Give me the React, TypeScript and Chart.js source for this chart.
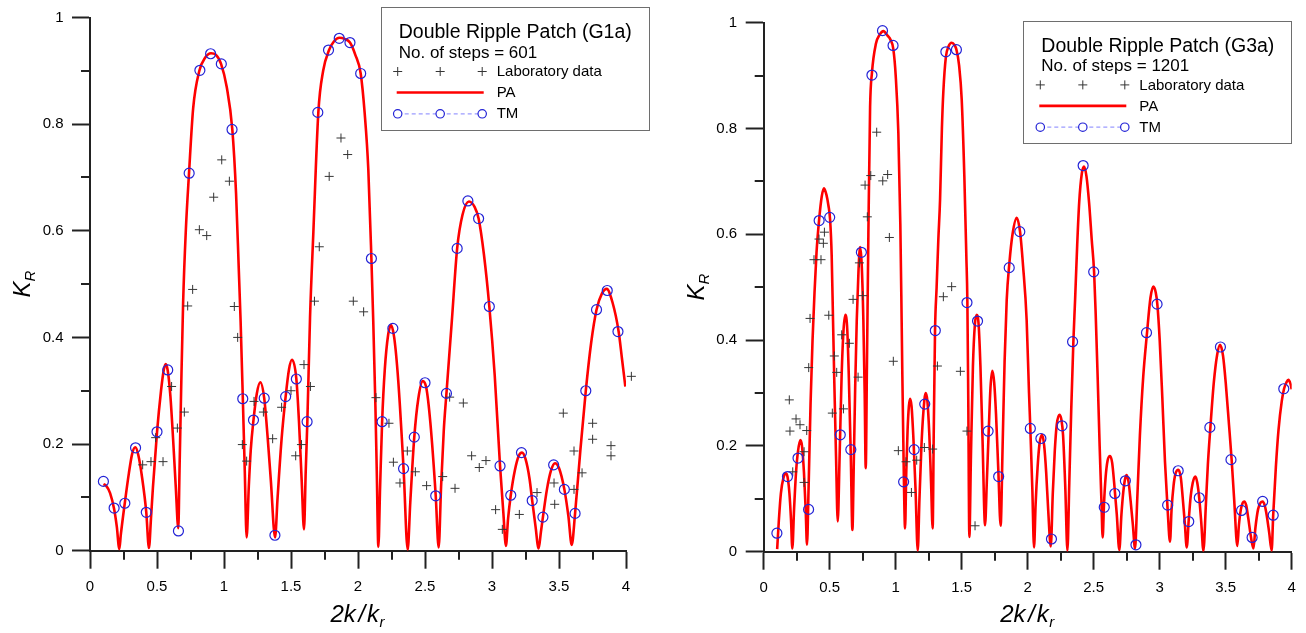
import React, { useEffect, useRef } from 'react';
import { Chart, registerables } from 'chart.js';

Chart.register(...registerables);

const FONT = "'Liberation Sans', Arial, Helvetica, sans-serif";
const AXIS = '#222222';
const RED = '#ff0000';
const BLUE = '#2323d6';
const LAB = '#353535';

// ---- tick values ----
const xTickValues = [0, 0.5, 1, 1.5, 2, 2.5, 3, 3.5, 4];
const yTickValues = [0, 0.2, 0.4, 0.6, 0.8, 1];
const xMinorTicks = [0.25, 0.75, 1.25, 1.75, 2.25, 2.75, 3.25, 3.75];
const yMinorTicks = [0.1, 0.3, 0.5, 0.7, 0.9];

// ---- legend texts ----
const leftTitle = 'Double Ripple Patch (G1a)';
const leftSteps = 'No. of steps = 601';
const rightTitle = 'Double Ripple Patch (G3a)';
const rightSteps = 'No. of steps = 1201';
const seriesNames = ['Laboratory data', 'PA', 'TM'];

// ---- TM (shared x) ----
const tmX = [0.10, 0.18, 0.26, 0.34, 0.42, 0.50, 0.58, 0.66, 0.74, 0.82, 0.90, 0.98, 1.06, 1.14, 1.22, 1.30, 1.38, 1.46, 1.54, 1.62, 1.70, 1.78, 1.86, 1.94, 2.02, 2.10, 2.18, 2.26, 2.34, 2.42, 2.50, 2.58, 2.66, 2.74, 2.82, 2.90, 2.98, 3.06, 3.14, 3.22, 3.30, 3.38, 3.46, 3.54, 3.62, 3.70, 3.78, 3.86, 3.94];
const leftTmY = [0.130, 0.080, 0.089, 0.193, 0.072, 0.223, 0.339, 0.037, 0.708, 0.901, 0.932, 0.913, 0.790, 0.285, 0.245, 0.286, 0.029, 0.289, 0.322, 0.242, 0.822, 0.939, 0.961, 0.953, 0.895, 0.548, 0.242, 0.417, 0.154, 0.213, 0.315, 0.103, 0.295, 0.567, 0.656, 0.623, 0.458, 0.159, 0.104, 0.184, 0.094, 0.063, 0.161, 0.115, 0.070, 0.300, 0.452, 0.488, 0.411];
const rightTmY = [0.035, 0.142, 0.177, 0.080, 0.626, 0.632, 0.221, 0.193, 0.566, 0.901, 0.985, 0.957, 0.132, 0.193, 0.279, 0.418, 0.945, 0.949, 0.471, 0.436, 0.228, 0.142, 0.537, 0.605, 0.233, 0.214, 0.024, 0.238, 0.397, 0.730, 0.529, 0.084, 0.110, 0.134, 0.013, 0.414, 0.468, 0.088, 0.153, 0.057, 0.102, 0.235, 0.387, 0.174, 0.078, 0.027, 0.095, 0.069, 0.308];

// ---- Laboratory data ----
const leftLabX = [0.393, 0.455, 0.490, 0.545, 0.609, 0.652, 0.704, 0.729, 0.766, 0.816, 0.871, 0.923, 0.983, 1.040, 1.077, 1.102, 1.137, 1.169, 1.224, 1.294, 1.363, 1.430, 1.500, 1.535, 1.578, 1.597, 1.645, 1.675, 1.711, 1.785, 1.873, 1.923, 1.965, 2.042, 2.134, 2.231, 2.264, 2.313, 2.368, 2.428, 2.512, 2.632, 2.684, 2.724, 2.786, 2.848, 2.905, 2.955, 3.027, 3.077, 3.204, 3.336, 3.463, 3.468, 3.532, 3.612, 3.612, 3.672, 3.751, 3.751, 3.888, 3.888, 4.040];
const leftLabY = [0.161, 0.167, 0.212, 0.167, 0.308, 0.230, 0.260, 0.459, 0.490, 0.602, 0.591, 0.663, 0.733, 0.693, 0.458, 0.400, 0.199, 0.168, 0.280, 0.260, 0.210, 0.269, 0.300, 0.178, 0.199, 0.349, 0.308, 0.468, 0.570, 0.702, 0.774, 0.743, 0.468, 0.448, 0.287, 0.239, 0.166, 0.127, 0.187, 0.148, 0.122, 0.139, 0.288, 0.117, 0.277, 0.178, 0.156, 0.169, 0.077, 0.040, 0.068, 0.109, 0.127, 0.087, 0.258, 0.187, 0.115, 0.146, 0.239, 0.209, 0.197, 0.178, 0.327];
const rightLabX = [0.194, 0.199, 0.220, 0.245, 0.275, 0.306, 0.306, 0.326, 0.341, 0.351, 0.381, 0.419, 0.434, 0.452, 0.460, 0.493, 0.520, 0.535, 0.553, 0.591, 0.604, 0.649, 0.677, 0.715, 0.725, 0.750, 0.768, 0.785, 0.811, 0.856, 0.902, 0.939, 0.952, 0.982, 1.020, 1.078, 1.119, 1.159, 1.217, 1.280, 1.316, 1.361, 1.424, 1.490, 1.540, 1.601];
const rightLabY = [0.287, 0.228, 0.151, 0.251, 0.240, 0.189, 0.131, 0.229, 0.348, 0.441, 0.552, 0.591, 0.552, 0.583, 0.604, 0.447, 0.262, 0.370, 0.339, 0.410, 0.270, 0.394, 0.477, 0.330, 0.546, 0.484, 0.693, 0.633, 0.711, 0.793, 0.701, 0.713, 0.594, 0.360, 0.191, 0.170, 0.112, 0.173, 0.197, 0.194, 0.351, 0.482, 0.501, 0.341, 0.228, 0.049];

// ---- PA curves ----
const leftPaX = [0.100, 0.120, 0.150, 0.180, 0.200, 0.219, 0.230, 0.260, 0.290, 0.315, 0.338, 0.360, 0.390, 0.420, 0.440, 0.455, 0.470, 0.500, 0.530, 0.550, 0.565, 0.580, 0.600, 0.620, 0.640, 0.659, 0.668, 0.680, 0.695, 0.715, 0.739, 0.770, 0.816, 0.860, 0.903, 0.940, 0.978, 1.020, 1.062, 1.090, 1.110, 1.124, 1.140, 1.155, 1.169, 1.185, 1.200, 1.220, 1.245, 1.271, 1.300, 1.325, 1.350, 1.381, 1.400, 1.430, 1.460, 1.485, 1.507, 1.540, 1.560, 1.580, 1.597, 1.610, 1.622, 1.642, 1.667, 1.704, 1.740, 1.784, 1.820, 1.861, 1.900, 1.940, 1.980, 2.020, 2.050, 2.077, 2.100, 2.114, 2.130, 2.140, 2.152, 2.165, 2.180, 2.200, 2.225, 2.246, 2.270, 2.300, 2.340, 2.371, 2.390, 2.420, 2.450, 2.483, 2.510, 2.540, 2.580, 2.602, 2.620, 2.640, 2.660, 2.700, 2.740, 2.780, 2.828, 2.870, 2.900, 2.940, 2.980, 3.020, 3.060, 3.085, 3.104, 3.120, 3.140, 3.170, 3.200, 3.224, 3.250, 3.280, 3.300, 3.325, 3.348, 3.365, 3.380, 3.410, 3.440, 3.470, 3.500, 3.540, 3.570, 3.595, 3.620, 3.660, 3.700, 3.740, 3.780, 3.820, 3.856, 3.900, 3.945, 3.970, 3.995];
const leftPaY = [0.125, 0.122, 0.108, 0.078, 0.045, 0.003, 0.030, 0.090, 0.145, 0.182, 0.194, 0.180, 0.135, 0.072, 0.005, 0.060, 0.120, 0.222, 0.300, 0.338, 0.350, 0.338, 0.290, 0.210, 0.120, 0.042, 0.150, 0.300, 0.466, 0.600, 0.708, 0.830, 0.900, 0.925, 0.933, 0.930, 0.913, 0.870, 0.790, 0.670, 0.530, 0.430, 0.290, 0.150, 0.025, 0.120, 0.190, 0.245, 0.295, 0.316, 0.286, 0.215, 0.130, 0.025, 0.100, 0.210, 0.289, 0.340, 0.358, 0.322, 0.240, 0.130, 0.040, 0.150, 0.242, 0.437, 0.598, 0.822, 0.900, 0.939, 0.955, 0.962, 0.960, 0.953, 0.930, 0.895, 0.820, 0.715, 0.548, 0.429, 0.270, 0.150, 0.007, 0.120, 0.242, 0.340, 0.405, 0.423, 0.400, 0.320, 0.154, 0.002, 0.090, 0.213, 0.285, 0.318, 0.305, 0.240, 0.103, 0.006, 0.120, 0.225, 0.295, 0.430, 0.567, 0.630, 0.655, 0.645, 0.623, 0.555, 0.458, 0.330, 0.159, 0.070, 0.009, 0.060, 0.104, 0.150, 0.178, 0.184, 0.172, 0.135, 0.094, 0.045, 0.004, 0.035, 0.063, 0.115, 0.150, 0.164, 0.155, 0.115, 0.065, 0.011, 0.070, 0.190, 0.300, 0.390, 0.452, 0.482, 0.491, 0.465, 0.411, 0.360, 0.308];
const rightPaX = [0.102, 0.115, 0.130, 0.150, 0.167, 0.180, 0.195, 0.207, 0.217, 0.230, 0.245, 0.260, 0.278, 0.290, 0.305, 0.318, 0.328, 0.340, 0.355, 0.370, 0.385, 0.400, 0.420, 0.440, 0.457, 0.475, 0.490, 0.503, 0.515, 0.525, 0.535, 0.548, 0.561, 0.575, 0.590, 0.605, 0.619, 0.633, 0.645, 0.660, 0.672, 0.682, 0.693, 0.705, 0.718, 0.730, 0.742, 0.755, 0.765, 0.773, 0.782, 0.793, 0.806, 0.820, 0.850, 0.880, 0.907, 0.940, 0.960, 0.982, 1.000, 1.020, 1.035, 1.045, 1.050, 1.060, 1.071, 1.080, 1.090, 1.100, 1.109, 1.120, 1.135, 1.150, 1.167, 1.180, 1.195, 1.210, 1.227, 1.240, 1.255, 1.268, 1.280, 1.288, 1.298, 1.310, 1.323, 1.336, 1.350, 1.361, 1.380, 1.400, 1.424, 1.445, 1.460, 1.480, 1.500, 1.520, 1.535, 1.543, 1.550, 1.558, 1.570, 1.585, 1.600, 1.614, 1.628, 1.642, 1.658, 1.677, 1.690, 1.705, 1.718, 1.732, 1.746, 1.760, 1.778, 1.795, 1.810, 1.825, 1.841, 1.861, 1.885, 1.917, 1.942, 1.965, 1.992, 2.010, 2.020, 2.035, 2.048, 2.060, 2.075, 2.090, 2.109, 2.125, 2.140, 2.155, 2.175, 2.190, 2.205, 2.220, 2.240, 2.255, 2.268, 2.285, 2.301, 2.315, 2.330, 2.346, 2.359, 2.375, 2.390, 2.410, 2.427, 2.445, 2.465, 2.485, 2.503, 2.515, 2.530, 2.545, 2.558, 2.568, 2.578, 2.590, 2.605, 2.624, 2.640, 2.655, 2.675, 2.694, 2.710, 2.725, 2.740, 2.750, 2.765, 2.780, 2.797, 2.813, 2.830, 2.850, 2.875, 2.904, 2.930, 2.952, 2.970, 2.982, 3.000, 3.020, 3.040, 3.060, 3.078, 3.090, 3.105, 3.120, 3.141, 3.160, 3.175, 3.190, 3.205, 3.220, 3.235, 3.250, 3.270, 3.285, 3.300, 3.315, 3.331, 3.350, 3.365, 3.384, 3.410, 3.435, 3.457, 3.480, 3.500, 3.525, 3.545, 3.565, 3.588, 3.600, 3.615, 3.630, 3.641, 3.655, 3.670, 3.690, 3.710, 3.725, 3.745, 3.765, 3.780, 3.795, 3.810, 3.830, 3.848, 3.860, 3.880, 3.900, 3.925, 3.942, 3.960, 3.975, 3.990, 4.000];
const rightPaY = [0.005, 0.060, 0.110, 0.140, 0.148, 0.142, 0.110, 0.060, 0.006, 0.080, 0.150, 0.190, 0.211, 0.200, 0.150, 0.080, 0.013, 0.120, 0.280, 0.400, 0.490, 0.565, 0.628, 0.672, 0.687, 0.675, 0.655, 0.628, 0.560, 0.440, 0.320, 0.180, 0.057, 0.180, 0.330, 0.420, 0.448, 0.420, 0.330, 0.180, 0.041, 0.160, 0.310, 0.438, 0.530, 0.576, 0.545, 0.438, 0.300, 0.158, 0.350, 0.600, 0.840, 0.905, 0.960, 0.978, 0.984, 0.975, 0.968, 0.950, 0.900, 0.792, 0.620, 0.438, 0.340, 0.170, 0.044, 0.150, 0.230, 0.275, 0.289, 0.275, 0.210, 0.120, 0.002, 0.100, 0.200, 0.265, 0.300, 0.285, 0.220, 0.130, 0.044, 0.220, 0.418, 0.500, 0.590, 0.665, 0.800, 0.870, 0.935, 0.955, 0.962, 0.958, 0.949, 0.920, 0.855, 0.710, 0.560, 0.472, 0.280, 0.028, 0.180, 0.350, 0.430, 0.448, 0.430, 0.350, 0.210, 0.050, 0.130, 0.230, 0.310, 0.342, 0.320, 0.260, 0.150, 0.049, 0.200, 0.360, 0.476, 0.545, 0.600, 0.631, 0.605, 0.540, 0.438, 0.300, 0.233, 0.120, 0.008, 0.090, 0.160, 0.205, 0.221, 0.200, 0.150, 0.080, 0.010, 0.110, 0.190, 0.240, 0.259, 0.250, 0.220, 0.120, 0.002, 0.130, 0.270, 0.397, 0.476, 0.580, 0.660, 0.715, 0.728, 0.710, 0.660, 0.590, 0.529, 0.450, 0.330, 0.200, 0.100, 0.027, 0.090, 0.140, 0.172, 0.181, 0.168, 0.130, 0.070, 0.003, 0.070, 0.115, 0.140, 0.145, 0.130, 0.095, 0.050, 0.006, 0.100, 0.220, 0.330, 0.414, 0.480, 0.501, 0.490, 0.468, 0.400, 0.290, 0.170, 0.080, 0.019, 0.080, 0.125, 0.148, 0.155, 0.140, 0.100, 0.055, 0.008, 0.060, 0.105, 0.130, 0.142, 0.130, 0.100, 0.055, 0.002, 0.090, 0.165, 0.235, 0.320, 0.372, 0.391, 0.370, 0.320, 0.240, 0.174, 0.095, 0.011, 0.050, 0.080, 0.093, 0.095, 0.088, 0.065, 0.030, 0.006, 0.045, 0.080, 0.093, 0.095, 0.088, 0.070, 0.035, 0.002, 0.070, 0.160, 0.230, 0.285, 0.308, 0.320, 0.325, 0.318, 0.307];

type PanelCfg = {
  canvasW: number;
  canvasH: number;
  plotLeft: number;
  plotRight: number;
  plotTop: number;
  plotBottom: number;
  paX: number[];
  paY: number[];
  tmY: number[];
  labX: number[];
  labY: number[];
  legend: { x: number; y: number; w: number; h: number; title: string; steps: string };
};

function zip(xs: number[], ys: number[]) {
  return xs.map((x, i) => ({ x, y: ys[i] }));
}

function drawLegend(ctx: CanvasRenderingContext2D, L: PanelCfg['legend']) {
  const { x, y, w, h, title, steps } = L;
  ctx.save();
  ctx.fillStyle = '#ffffff';
  ctx.fillRect(x, y, w, h);
  ctx.strokeStyle = '#6e6e6e';
  ctx.lineWidth = 1;
  ctx.strokeRect(Math.round(x) + 0.5, Math.round(y) + 0.5, Math.round(w), Math.round(h));
  ctx.fillStyle = '#000';
  ctx.textAlign = 'left';
  ctx.textBaseline = 'alphabetic';
  ctx.font = `19.5px ${FONT}`;
  ctx.fillText(title, x + 18, y + 31);
  ctx.font = `17px ${FONT}`;
  ctx.fillText(steps, x + 18, y + 50.5);

  const sx = [x + 17, x + 59.5, x + 101.5];
  const r1 = y + 64.2;
  const r2 = y + 85.2;
  const r3 = y + 106.5;
  ctx.strokeStyle = LAB;
  ctx.lineWidth = 1;
  ctx.beginPath();
  for (const s of sx) {
    ctx.moveTo(s - 4.5, r1);
    ctx.lineTo(s + 4.5, r1);
    ctx.moveTo(s, r1 - 4.5);
    ctx.lineTo(s, r1 + 4.5);
  }
  ctx.stroke();
  ctx.strokeStyle = RED;
  ctx.lineWidth = 2.6;
  ctx.beginPath();
  ctx.moveTo(x + 16, r2);
  ctx.lineTo(x + 103, r2);
  ctx.stroke();
  ctx.strokeStyle = '#9c9cff';
  ctx.lineWidth = 1.3;
  ctx.setLineDash([4, 3]);
  ctx.beginPath();
  ctx.moveTo(sx[0], r3);
  ctx.lineTo(sx[2], r3);
  ctx.stroke();
  ctx.setLineDash([]);
  ctx.strokeStyle = BLUE;
  ctx.fillStyle = '#fff';
  ctx.lineWidth = 1.2;
  for (const s of sx) {
    ctx.beginPath();
    ctx.arc(s, r3, 4.2, 0, Math.PI * 2);
    ctx.fill();
    ctx.stroke();
  }
  ctx.fillStyle = '#000';
  ctx.font = `15px ${FONT}`;
  ctx.textBaseline = 'middle';
  ctx.fillText(seriesNames[0], x + 116, r1 + 0.5);
  ctx.fillText(seriesNames[1], x + 116, r2 + 0.5);
  ctx.fillText(seriesNames[2], x + 116, r3 + 0.5);
  ctx.restore();
}

function drawTitles(ctx: CanvasRenderingContext2D, area: any) {
  ctx.save();
  ctx.fillStyle = '#000';
  ctx.textAlign = 'left';
  ctx.textBaseline = 'alphabetic';
  // x title: 2k/k_r
  const cx = (area.left + area.right) / 2;
  const x0 = cx - 27.5;
  const by = 622;
  ctx.font = `italic 24px ${FONT}`;
  ctx.fillText('2k', x0, by);
  ctx.fillText('/', x0 + 28, by);
  ctx.fillText('k', x0 + 36.5, by);
  const wk = ctx.measureText('k').width;
  ctx.font = `italic 15px ${FONT}`;
  ctx.fillText('r', x0 + 36.5 + wk + 0.5, by + 5);
  // y title: K_R rotated
  const cy = (area.top + area.bottom) / 2;
  ctx.translate(area.left - 60, cy);
  ctx.rotate(-Math.PI / 2);
  ctx.font = `italic 24px ${FONT}`;
  const wK = ctx.measureText('K').width;
  ctx.font = `italic 15px ${FONT}`;
  const wR = ctx.measureText('R').width;
  const start = -(wK + wR) / 2;
  ctx.font = `italic 24px ${FONT}`;
  ctx.fillText('K', start, 0);
  ctx.font = `italic 15px ${FONT}`;
  ctx.fillText('R', start + wK, 5);
  ctx.restore();
}

function makeChart(canvas: HTMLCanvasElement, p: PanelCfg) {
  const overlay = {
    id: 'overlay',
    afterDraw(chart: any) {
      const ctx: CanvasRenderingContext2D = chart.ctx;
      const area = chart.chartArea;
      const xs = chart.scales.x;
      const ys = chart.scales.y;
      ctx.save();
      ctx.strokeStyle = AXIS;
      ctx.lineWidth = 2;
      ctx.beginPath();
      for (const v of xMinorTicks) {
        const px = Math.round(xs.getPixelForValue(v));
        ctx.moveTo(px, area.bottom);
        ctx.lineTo(px, area.bottom + 9);
      }
      for (const v of yMinorTicks) {
        const py = Math.round(ys.getPixelForValue(v));
        ctx.moveTo(area.left, py);
        ctx.lineTo(area.left - 9, py);
      }
      ctx.stroke();
      ctx.restore();
      drawTitles(ctx, area);
      drawLegend(ctx, p.legend);
    },
  };

  const tickFont = { size: 15, family: FONT };
  return new Chart(canvas, {
    type: 'scatter',
    data: {
      datasets: [
        {
          label: seriesNames[2],
          data: zip(tmX, p.tmY),
          showLine: false,
          pointStyle: 'circle',
          pointRadius: 5,
          pointBorderColor: BLUE,
          pointBackgroundColor: 'rgba(0,0,0,0)',
          pointBorderWidth: 1.2,
          order: 0,
          clip: false,
        } as any,
        {
          label: seriesNames[0],
          data: zip(p.labX, p.labY),
          showLine: false,
          pointStyle: 'cross',
          pointRadius: 4.5,
          pointBorderColor: LAB,
          pointBorderWidth: 1,
          order: 1,
          clip: false,
        } as any,
        {
          label: seriesNames[1],
          data: zip(p.paX, p.paY),
          showLine: true,
          pointRadius: 0,
          borderColor: RED,
          borderWidth: 2.6,
          cubicInterpolationMode: 'monotone',
          fill: false,
          order: 2,
        } as any,
      ],
    },
    options: {
      responsive: false,
      animation: false,
      devicePixelRatio: 1,
      events: [],
      layout: {
        padding: { left: 0, right: p.canvasW - p.plotRight, top: p.plotTop, bottom: 0 },
      },
      plugins: {
        legend: { display: false },
        tooltip: { enabled: false },
        title: { display: false },
      },
      scales: {
        x: {
          type: 'linear',
          min: 0,
          max: 4,
          afterBuildTicks: (s: any) => {
            s.ticks = xTickValues.map((v) => ({ value: v }));
          },
          afterFit: (s: any) => {
            s.height = p.canvasH - p.plotBottom;
          },
          ticks: {
            font: tickFont,
            color: '#000',
            padding: 9,
            maxRotation: 0,
            autoSkip: false,
            callback: (v: any) => String(v),
          },
          grid: {
            display: true,
            drawOnChartArea: false,
            drawTicks: true,
            tickLength: 18,
            tickWidth: 2,
            tickColor: AXIS,
            color: AXIS,
          },
          border: { display: true, color: AXIS, width: 2 },
        },
        y: {
          type: 'linear',
          min: 0,
          max: 1,
          afterBuildTicks: (s: any) => {
            s.ticks = yTickValues.map((v) => ({ value: v }));
          },
          afterFit: (s: any) => {
            s.width = p.plotLeft;
          },
          ticks: {
            font: tickFont,
            color: '#000',
            padding: 8.5,
            autoSkip: false,
            callback: (v: any) => String(v),
          },
          grid: {
            display: true,
            drawOnChartArea: false,
            drawTicks: true,
            tickLength: 18,
            tickWidth: 2,
            tickColor: AXIS,
            color: AXIS,
          },
          border: { display: true, color: AXIS, width: 2 },
        },
      },
    } as any,
    plugins: [overlay as any],
  });
}

const LEFT_W = 660;
const RIGHT_W = 646;
const H = 633;

export default function App() {
  const leftRef = useRef<HTMLCanvasElement>(null);
  const rightRef = useRef<HTMLCanvasElement>(null);

  useEffect(() => {
    Chart.defaults.font.family = FONT;
    const left = makeChart(leftRef.current as HTMLCanvasElement, {
      canvasW: LEFT_W,
      canvasH: H,
      plotLeft: 90,
      plotRight: 626,
      plotTop: 13.3,
      plotBottom: 550.7,
      paX: leftPaX,
      paY: leftPaY,
      tmY: leftTmY,
      labX: leftLabX,
      labY: leftLabY,
      legend: { x: 380.7, y: 7.3, w: 268, h: 122.7, title: leftTitle, steps: leftSteps },
    });
    const right = makeChart(rightRef.current as HTMLCanvasElement, {
      canvasW: RIGHT_W,
      canvasH: H,
      plotLeft: 103.7,
      plotRight: 631.7,
      plotTop: 22.7,
      plotBottom: 551.7,
      paX: rightPaX,
      paY: rightPaY,
      tmY: rightTmY,
      labX: rightLabX,
      labY: rightLabY,
      legend: { x: 363.3, y: 20.7, w: 268.4, h: 121.6, title: rightTitle, steps: rightSteps },
    });
    return () => {
      left.destroy();
      right.destroy();
    };
  }, []);

  return (
    <div
      style={{
        position: 'absolute',
        left: 0,
        top: 0,
        width: 1306,
        height: H,
        background: '#ffffff',
        overflow: 'hidden',
      }}
    >
      <canvas
        ref={leftRef}
        width={LEFT_W}
        height={H}
        style={{ position: 'absolute', left: 0, top: 0, width: LEFT_W, height: H }}
      />
      <canvas
        ref={rightRef}
        width={RIGHT_W}
        height={H}
        style={{ position: 'absolute', left: LEFT_W, top: 0, width: RIGHT_W, height: H }}
      />
    </div>
  );
}
